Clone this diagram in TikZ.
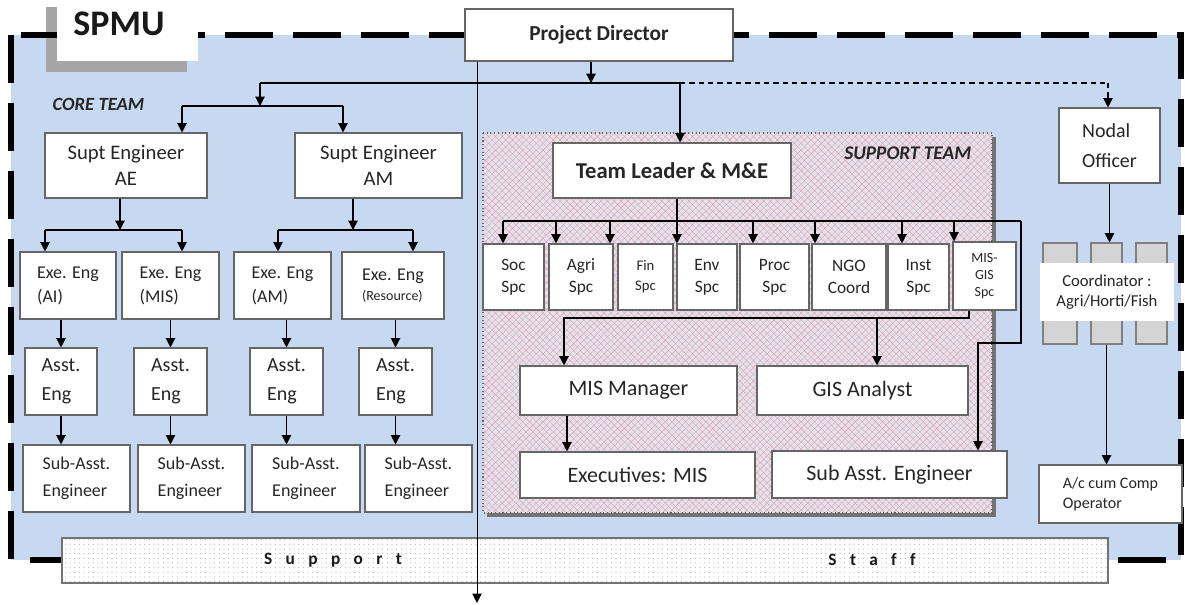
\documentclass[tikz,border=0pt]{standalone}
\usepackage{fontspec}
\setmainfont{Carlito}
\usetikzlibrary{fit,arrows.meta,patterns.meta}
\definecolor{bluebg}{RGB}{198,217,241}
\definecolor{hatchc}{RGB}{226,160,172}
\definecolor{teambg}{RGB}{226,226,236}
\newcommand{\lsp}{\hspace{10pt}}
\newcommand{\fsz}[2]{\fontsize{#1}{#2}\selectfont}
% box node from corners, with its text in a second named node at its centre
\newcommand{\bx}[6]{\node[#1,fit={(#3) (#4)}] (#2) {};
  \node[inner sep=0pt,text=black!85,align=center,#5] (#2-t) at (#2.center) {#6};}
\tikzset{
 box/.style={draw=black!60,line width=0.8pt,fill=white,inner sep=0pt},
 conn/.style={line width=0.9pt,draw=black},
 arr/.style={conn,-{Triangle[length=7pt,width=7pt]}},
 gbox/.style={draw=black!50,line width=0.8pt,fill=black!17,inner sep=0pt},
 spcf/.style={font=\fsz{13}{16.5}},
}
\begin{document}
\begin{tikzpicture}[x=0.75pt,y=-0.75pt]
\useasboundingbox (0,0) rectangle (1185,605);
% background frame
\fill[bluebg] (11,35) rectangle (1181,560);
\fill[black!35] (46,7) rectangle (187,72);
\draw[line width=4.5pt,dash pattern=on 36pt off 15pt] (11,35) rectangle (1181,560);
\node[fill=white,inner sep=0pt,fit={(57,0) (198,61)}] (tab) {};
\node[font=\bfseries\fsz{27}{30},text=black!90] (spmu) at (119,24) {SPMU};
% project director
\bx{box}{pd}{465,9}{733,61}{font=\bfseries\fsz{16}{19}}{Project Director}
% support team region
\fill[black!55] (487,137) rectangle (996,517);
\fill[teambg] (483,133) rectangle (992,513);
\fill[pattern={Hatch[angle=45,distance=3.6pt,line width=0.3pt]},pattern color=hatchc] (483,133) rectangle (992,513);
\draw[black!60,dotted,line width=0.8pt] (483,133) rectangle (992,513);
% support band
\fill[white] (62,538) rectangle (1108,583);
\fill[pattern={Dots[distance=3.5pt,radius=0.35pt]},pattern color=black!45] (62,538) rectangle (1108,583);
\draw[black!55,line width=0.8pt] (62,538) rectangle (1108,583);
\node[font=\bfseries\fsz{13}{15},text=black!90] (sup) at (333,560) {S\lsp u\lsp p\lsp p\lsp o\lsp r\lsp t};
\node[font=\bfseries\fsz{13}{15},text=black!90] (stf) at (872,560) {S\lsp t\lsp a\lsp f\lsp f};
% labels
\node[anchor=west,font=\bfseries\itshape\fsz{14}{16},text=black!85] (core) at (48,104) {CORE TEAM};
\node[anchor=east,font=\bfseries\itshape\fsz{14.5}{17},text=black!85] (supp) at (976,153) {SUPPORT TEAM};
% core team nodes
\bx{box}{seAE}{45,133}{207,198}{font=\fsz{15.5}{20}}{Supt Engineer\\AE}
\bx{box}{seAM}{295,133}{462,198}{font=\fsz{15.5}{20}}{Supt Engineer\\AM}
\bx{box}{exAI}{20,252}{116,319}{align=left,font=\fsz{13.5}{18}}{Exe. Eng\\(AI)}
\bx{box}{exMIS}{122,252}{219,319}{align=left,font=\fsz{13.5}{18}}{Exe. Eng\\(MIS)}
\bx{box}{exAM}{234,252}{331,319}{align=left,font=\fsz{13.5}{18}}{Exe. Eng\\(AM)}
\bx{box}{exRes}{342,252}{444,319}{align=left,font=\fsz{13.5}{18}}{Exe. Eng\\[-3pt]{\fsz{10.5}{12}(Resource)}}
\bx{box}{as1}{25,348}{97,415}{align=left,font=\fsz{15}{21.5}}{Asst.\\Eng}
\bx{box}{as2}{134,348}{207,415}{align=left,font=\fsz{15}{21.5}}{Asst.\\Eng}
\bx{box}{as3}{250,348}{323,415}{align=left,font=\fsz{15}{21.5}}{Asst.\\Eng}
\bx{box}{as4}{359,348}{432,415}{align=left,font=\fsz{15}{21.5}}{Asst.\\Eng}
\bx{box}{sb1}{23,445}{130,512}{align=left,font=\fsz{13.5}{20}}{Sub-Asst.\\Engineer}
\bx{box}{sb2}{138,445}{245,512}{align=left,font=\fsz{13.5}{20}}{Sub-Asst.\\Engineer}
\bx{box}{sb3}{252,445}{360,512}{align=left,font=\fsz{13.5}{20}}{Sub-Asst.\\Engineer}
\bx{box}{sb4}{365,445}{472,512}{align=left,font=\fsz{13.5}{20}}{Sub-Asst.\\Engineer}
% support team nodes
\bx{box}{tl}{553,143}{791,198}{font=\bfseries\fsz{17}{20}}{Team Leader \& M\&E}
\bx{box}{soc}{483,244}{544,310}{spcf}{Soc\\Spc}
\bx{box}{agri}{549,244}{613,310}{spcf}{Agri\\Spc}
\bx{box}{fin}{618,244}{673,310}{font=\fsz{11}{15}}{Fin\\Spc}
\bx{box}{env}{677,244}{737,310}{spcf}{Env\\Spc}
\bx{box}{proc}{740,244}{809,310}{spcf}{Proc\\Spc}
\bx{box}{ngo}{812,244}{886,310}{spcf}{NGO\\Coord}
\bx{box}{inst}{888,244}{949,310}{spcf}{Inst\\Spc}
\bx{box}{misgis}{953,242}{1016,310}{font=\fsz{10.5}{13}}{MIS-\\GIS\\Spc}
\bx{box}{mism}{520,366}{737,415}{font=\fsz{16.5}{20}}{MIS Manager}
\bx{box}{gis}{757,366}{968,415}{font=\fsz{16.5}{20}}{GIS Analyst}
\bx{box}{exe}{520,452}{755,498}{font=\fsz{16.5}{20}}{Executives: MIS}
\bx{box}{sae}{772,451}{1007,498}{font=\fsz{16.5}{20}}{Sub Asst. Engineer}
% right side nodes
\bx{box}{nodal}{1059,108}{1160,183}{align=left,font=\fsz{15}{22}}{Nodal\\Officer}
\node[gbox,fit={(1043,243) (1077,344)}] (g1) {};
\node[gbox,fit={(1091,243) (1122,344)}] (g2) {};
\node[gbox,fit={(1136,243) (1167,344)}] (g3) {};
\bx{fill=white,inner sep=0pt}{coord}{1040,263}{1174,321}{font=\fsz{12.5}{15}}{Coordinator :\\Agri/Horti/Fish}
\bx{box}{acc}{1039,465}{1182,523}{align=left,font=\fsz{12}{15}}{A/c cum Comp\\Operator}
% ---------- connectors ----------
\coordinate (j0) at (591,83);
\coordinate (hL) at (260,83);
\coordinate (hR) at (680,83);
\coordinate (hN) at (1108,83);
\coordinate (bot) at (477,603);
\draw[conn,line width=0.7pt,-{Triangle[length=7pt,width=7pt]}] (pd.south -| bot) -- (bot);
\draw[arr] (pd.south -| j0) -- (j0);
\draw[conn] (hL) -- (hR);
\draw[conn,dash pattern=on 4pt off 3pt] (hR) -- (hN);
\draw[conn,dash pattern=on 4pt off 3pt,-{Triangle[length=7pt,width=7pt]}] (hN) -- (nodal.north -| hN);
\draw[arr] (hR) -- (tl.north -| hR);
% core tree
\coordinate (c1) at (260,106);
\coordinate (c1L) at (182,106);
\coordinate (c1R) at (343,106);
\draw[arr] (hL) -- (c1);
\draw[conn] (c1L) -- (c1R);
\draw[arr] (c1L) -- (seAE.north -| c1L);
\draw[arr] (c1R) -- (seAM.north -| c1R);
\coordinate (c2) at (120,230);
\coordinate (c2L) at (45,230);
\coordinate (c2R) at (182,230);
\draw[arr] (seAE.south -| c2) -- (c2);
\draw[conn] (c2L) -- (c2R);
\draw[arr] (c2L) -- (exAI.north -| c2L);
\draw[arr] (c2R) -- (exMIS.north -| c2R);
\coordinate (c3) at (353,230);
\coordinate (c3L) at (278,230);
\coordinate (c3R) at (413,230);
\draw[arr] (seAM.south -| c3) -- (c3);
\draw[conn] (c3L) -- (c3R);
\draw[arr] (c3L) -- (exAM.north -| c3L);
\draw[arr] (c3R) -- (exRes.north -| c3R);
\foreach \e/\a/\s in {exAI/as1/sb1,exMIS/as2/sb2,exAM/as3/sb3,exRes/as4/sb4}{
  \draw[arr] (\e.south -| \a.north) -- (\a.north);
  \draw[arr] (\a.south) -- (\s.north -| \a.south);
}
% support tree
\coordinate (t1) at (677,221);
\coordinate (sL) at (503,221);
\coordinate (sR) at (1021,221);
\draw[arr] (tl.south -| t1) -- (env.north -| t1);
\draw[conn] (sL) -- (sR);
\foreach \x/\n in {503/soc,556/agri,610/agri,753/proc,815/ngo,902/inst,954/misgis}{
  \coordinate (a) at (\x,221);
  \draw[arr] (a) -- (\n.north -| a);
}
\coordinate (r1) at (1021,343);
\coordinate (r2) at (978,343);
\draw[arr] (sR) -- (r1) -- (r2) -- (sae.north -| r2);
\coordinate (m1) at (969,318);
\coordinate (m2) at (564,318);
\coordinate (m3) at (877,318);
\coordinate (m4) at (567,430);
\draw[arr] (misgis.south -| m1) -- (m1) -- (m2) -- (mism.north -| m2);
\draw[arr] (m3) -- (gis.north -| m3);
\draw[arr] (mism.south -| m4) -- (exe.north -| m4);
% right side
\draw[arr] (nodal.south) -- (nodal.south |- g2.north);
\draw[arr] (g2.south) -- (g2.south |- acc.north);
\end{tikzpicture}
\end{document}
